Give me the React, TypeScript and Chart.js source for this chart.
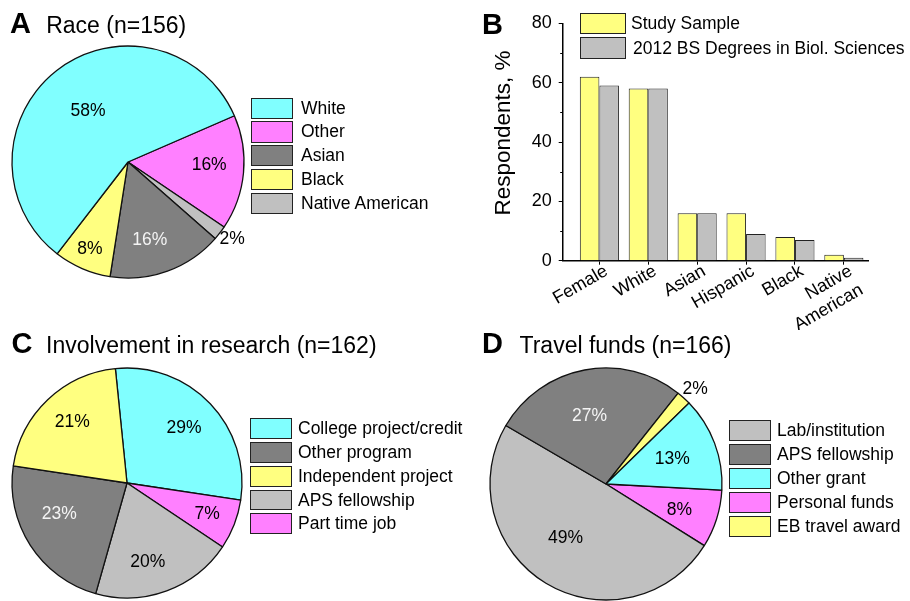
import React, { useEffect, useRef } from 'react';
import { Chart, registerables } from 'chart.js';

Chart.register(...registerables);

const FONT = '"Liberation Sans", Arial, Helvetica, sans-serif';

const CYAN = '#80ffff';
const MAGENTA = '#ff80ff';
const DARK = '#808080';
const YELLOW = '#ffff80';
const LIGHT = '#c0c0c0';
const INK = '#000000';
const PALE_INK = '#f4f4f4';

// ---- Panel A: race (slices listed clockwise) ----
const raceSlices = ['Other', 'Native American', 'Asian', 'Black', 'White'];
const raceValues = [16, 2, 16, 8, 58];
const raceLegend = ['White', 'Other', 'Asian', 'Black', 'Native American'];
const raceColors: Record<string, string> = {
  White: CYAN, Other: MAGENTA, Asian: DARK, Black: YELLOW, 'Native American': LIGHT,
};

// ---- Panel B: study sample vs 2012 BS degrees ----
const groupLabels: (string | string[])[] = ['Female', 'White', 'Asian', 'Hispanic', 'Black', ['Native', 'American']];
const studySample = [62, 58, 16, 16, 8, 2];
const bsDegrees = [59, 58, 16, 9, 7, 1];
const seriesNames = ['Study Sample', '2012 BS Degrees in Biol. Sciences'];
const yMajorTicks = [0, 20, 40, 60, 80];
const yMinorTicks = [10, 30, 50, 70];

// ---- Panel C: involvement in research (clockwise) ----
const researchSlices = ['College project/credit', 'Part time job', 'APS fellowship', 'Other program', 'Independent project'];
const researchValues = [29, 7, 20, 23, 21];
const researchLegend = ['College project/credit', 'Other program', 'Independent project', 'APS fellowship', 'Part time job'];
const researchColors: Record<string, string> = {
  'College project/credit': CYAN, 'Other program': DARK, 'Independent project': YELLOW,
  'APS fellowship': LIGHT, 'Part time job': MAGENTA,
};

// ---- Panel D: travel funds (clockwise) ----
const fundSlices = ['Personal funds', 'Lab/institution', 'APS fellowship', 'EB travel award', 'Other grant'];
const fundValues = [8, 49, 27, 2, 13];
const fundLegend = ['Lab/institution', 'APS fellowship', 'Other grant', 'Personal funds', 'EB travel award'];
const fundColors: Record<string, string> = {
  'Lab/institution': LIGHT, 'APS fellowship': DARK, 'Other grant': CYAN,
  'Personal funds': MAGENTA, 'EB travel award': YELLOW,
};

// Percent labels placed along each slice's bisector
const sliceLabels = {
  id: 'sliceLabels',
  afterDatasetsDraw(chart: any, _args: any, opts: any) {
    const meta = chart.getDatasetMeta(0);
    const values = chart.data.datasets[0].data as number[];
    const ctx = chart.ctx as CanvasRenderingContext2D;
    ctx.save();
    ctx.font = `17.5px ${FONT}`;
    ctx.textAlign = 'center';
    ctx.textBaseline = 'middle';
    meta.data.forEach((arc: any, i: number) => {
      const a = (arc.startAngle + arc.endAngle) / 2 + (opts.shift[i] * Math.PI) / 180;
      const r = arc.outerRadius * opts.radial[i];
      ctx.fillStyle = opts.colors[i];
      ctx.fillText(`${values[i]}%`, arc.x + r * Math.cos(a), arc.y + r * Math.sin(a));
    });
    ctx.restore();
  },
};

type PieProps = {
  slices: string[];
  values: number[];
  palette: Record<string, string>;
  rotation: number;
  cx: number;
  cy: number;
  r: number;
  radial: number[];
  shift: number[];
  textColors: string[];
};

function PieChart({ slices, values, palette, rotation, cx, cy, r, radial, shift, textColors }: PieProps) {
  const ref = useRef<HTMLCanvasElement>(null);
  const size = Math.round(2 * r + 80);
  useEffect(() => {
    const chart = new Chart(ref.current as HTMLCanvasElement, {
      type: 'pie',
      data: {
        labels: slices,
        datasets: [{
          data: values,
          backgroundColor: slices.map((s) => palette[s]),
          borderColor: '#111111',
          borderWidth: 1.3,
          radius: r,
          rotation,
        } as any],
      },
      options: {
        responsive: false,
        animation: false,
        events: [],
        layout: { padding: 0 },
        plugins: {
          legend: { display: false },
          tooltip: { enabled: false },
          sliceLabels: { radial, shift, colors: textColors },
        } as any,
      },
      plugins: [sliceLabels],
    });
    return () => chart.destroy();
  }, []);
  return (
    <canvas
      ref={ref}
      width={size}
      height={size}
      style={{ position: 'absolute', left: cx - size / 2, top: cy - size / 2, width: size, height: size }}
    />
  );
}

// Short minor ticks on the y axis
const minorTicks = {
  id: 'minorTicks',
  afterDraw(chart: any) {
    const y = chart.scales.y;
    const ctx = chart.ctx as CanvasRenderingContext2D;
    ctx.save();
    ctx.strokeStyle = '#000';
    ctx.lineWidth = 1;
    yMinorTicks.forEach((v) => {
      const py = Math.round(y.getPixelForValue(v)) + 0.5;
      ctx.beginPath();
      ctx.moveTo(y.right - 2.5, py);
      ctx.lineTo(y.right, py);
      ctx.stroke();
    });
    ctx.restore();
  },
};

function BarPanel() {
  const ref = useRef<HTMLCanvasElement>(null);
  useEffect(() => {
    const toPoints = (arr: number[]) => arr.map((v, i) => ({ x: i, y: v }));
    const chart = new Chart(ref.current as HTMLCanvasElement, {
      type: 'bar',
      data: {
        datasets: [
          { label: seriesNames[0], data: toPoints(studySample), backgroundColor: YELLOW, borderColor: '#222', borderWidth: 1 },
          { label: seriesNames[1], data: toPoints(bsDegrees), backgroundColor: LIGHT, borderColor: '#222', borderWidth: 1 },
        ] as any,
      },
      options: {
        responsive: false,
        animation: false,
        events: [],
        layout: { padding: { top: 23.3, right: 41.7, left: 0, bottom: 0 } },
        datasets: { bar: { barPercentage: 1, categoryPercentage: 0.8 } },
        plugins: { legend: { display: false }, tooltip: { enabled: false } },
        scales: {
          x: {
            type: 'linear',
            offset: false,
            min: -0.75,
            max: 5.5,
            afterBuildTicks: (s: any) => {
              s.ticks = groupLabels.map((_, i) => ({ value: i }));
            },
            afterFit: (s: any) => {
              s.height = 69.3;
            },
            ticks: {
              autoSkip: false,
              minRotation: 30,
              maxRotation: 30,
              padding: -4,
              labelOffset: 7,
              color: INK,
              font: { family: FONT, size: 18 },
              callback: (v: any) => groupLabels[v as number] as any,
            },
            grid: { offset: false, drawOnChartArea: false, drawTicks: true, tickLength: 4, color: '#000' },
            border: { display: true, color: '#000', width: 1.5 },
          },
          y: {
            min: 0,
            max: 80,
            afterBuildTicks: (s: any) => {
              s.ticks = yMajorTicks.map((v) => ({ value: v }));
            },
            afterFit: (s: any) => {
              s.width = 102.7;
            },
            ticks: { padding: 7, color: INK, font: { family: FONT, size: 18 } },
            grid: { drawOnChartArea: false, drawTicks: true, tickLength: 4, color: '#000' },
            border: { display: true, color: '#000', width: 1.5 },
          },
        } as any,
      },
      plugins: [minorTicks],
    });
    return () => chart.destroy();
  }, []);
  return (
    <canvas ref={ref} width={450} height={330} style={{ position: 'absolute', left: 460, top: 0, width: 450, height: 330 }} />
  );
}

type LegendProps = {
  items: string[];
  palette: Record<string, string>;
  left: number;
  top: number;
  step: number;
  boxW: number;
  boxH: number;
  textLeft: number;
};

function Legend({ items, palette, left, top, step, boxW, boxH, textLeft }: LegendProps) {
  return (
    <>
      {items.map((name, i) => (
        <React.Fragment key={name}>
          <div
            style={{
              position: 'absolute', left, top: top + i * step, width: boxW, height: boxH,
              background: palette[name], border: '1.5px solid #222', boxSizing: 'border-box',
            }}
          />
          <div
            style={{
              position: 'absolute', left: textLeft, top: top + i * step, height: boxH,
              lineHeight: `${boxH}px`, fontSize: 17.5, fontFamily: FONT, color: INK, whiteSpace: 'nowrap',
            }}
          >
            {name}
          </div>
        </React.Fragment>
      ))}
    </>
  );
}

function Heading({ letter, text, letterLeft, textLeft, baseline }: { letter: string; text?: string; letterLeft: number; textLeft?: number; baseline: number }) {
  return (
    <>
      <div
        style={{
          position: 'absolute', left: letterLeft, top: baseline - 0.8465 * 29, fontSize: 29, lineHeight: '29px',
          fontWeight: 'bold', fontFamily: FONT, color: INK,
        }}
      >
        {letter}
      </div>
      {text && (
        <div
          style={{
            position: 'absolute', left: textLeft, top: baseline - 0.8465 * 23, fontSize: 23, lineHeight: '23px',
            fontFamily: FONT, color: INK, whiteSpace: 'nowrap',
          }}
        >
          {text}
        </div>
      )}
    </>
  );
}

export default function App() {
  const barLegendPalette: Record<string, string> = { [seriesNames[0]]: YELLOW, [seriesNames[1]]: LIGHT };
  return (
    <div
      style={{
        position: 'absolute', left: 0, top: 0, width: 910, height: 601, overflow: 'hidden',
        background: '#ffffff', fontFamily: FONT,
      }}
    >
      {/* A */}
      <PieChart
        slices={raceSlices}
        values={raceValues}
        palette={raceColors}
        rotation={66.5}
        cx={128}
        cy={162}
        r={116}
        radial={[0.7, 1.12, 0.7, 0.82, 0.56]}
        shift={[-3.4, -1, 4.3, 0.3, 0]}
        textColors={[INK, INK, PALE_INK, INK, INK]}
      />
      <Heading letter="A" text="Race (n=156)" letterLeft={10} textLeft={46.2} baseline={33.3} />
      <Legend items={raceLegend} palette={raceColors} left={250.7} top={97.7} step={23.7} boxW={42.6} boxH={21.3} textLeft={301} />

      {/* B */}
      <BarPanel />
      <Heading letter="B" letterLeft={482} baseline={34.3} />
      <div
        style={{
          position: 'absolute', left: 503.3, top: 132.5, transform: 'translate(-50%, -50%) rotate(-90deg)',
          fontSize: 22.5, lineHeight: '22.5px', fontFamily: FONT, color: INK, whiteSpace: 'nowrap',
        }}
      >
        Respondents, %
      </div>
      <Legend items={[seriesNames[0]]} palette={barLegendPalette} left={580} top={12.7} step={24} boxW={45.7} boxH={21} textLeft={631} />
      <Legend items={[seriesNames[1]]} palette={barLegendPalette} left={580} top={36.7} step={24} boxW={45.7} boxH={22} textLeft={633} />

      {/* C */}
      <PieChart
        slices={researchSlices}
        values={researchValues}
        palette={researchColors}
        rotation={-5.8}
        cx={127}
        cy={483}
        r={115}
        radial={[0.686, 0.75, 0.71, 0.65, 0.71]}
        shift={[0, 0.3, 5.4, 7.9, 1.6]}
        textColors={[INK, INK, INK, PALE_INK, INK]}
      />
      <Heading letter="C" text="Involvement in research (n=162)" letterLeft={11.4} textLeft={46.1} baseline={353.3} />
      <Legend items={researchLegend} palette={researchColors} left={250} top={418.3} step={23.75} boxW={42.3} boxH={20.8} textLeft={298} />

      {/* D */}
      <PieChart
        slices={fundSlices}
        values={fundValues}
        palette={fundColors}
        rotation={93}
        cx={606}
        cy={484}
        r={116}
        radial={[0.67, 0.58, 0.6, 1.12, 0.61]}
        shift={[1.8, 5.7, -3, 1.2, 0]}
        textColors={[INK, INK, PALE_INK, INK, INK]}
      />
      <Heading letter="D" text="Travel funds (n=166)" letterLeft={482} textLeft={519.5} baseline={353.3} />
      <Legend items={fundLegend} palette={fundColors} left={728.7} top={420} step={23.9} boxW={42.3} boxH={21} textLeft={777} />
    </div>
  );
}
